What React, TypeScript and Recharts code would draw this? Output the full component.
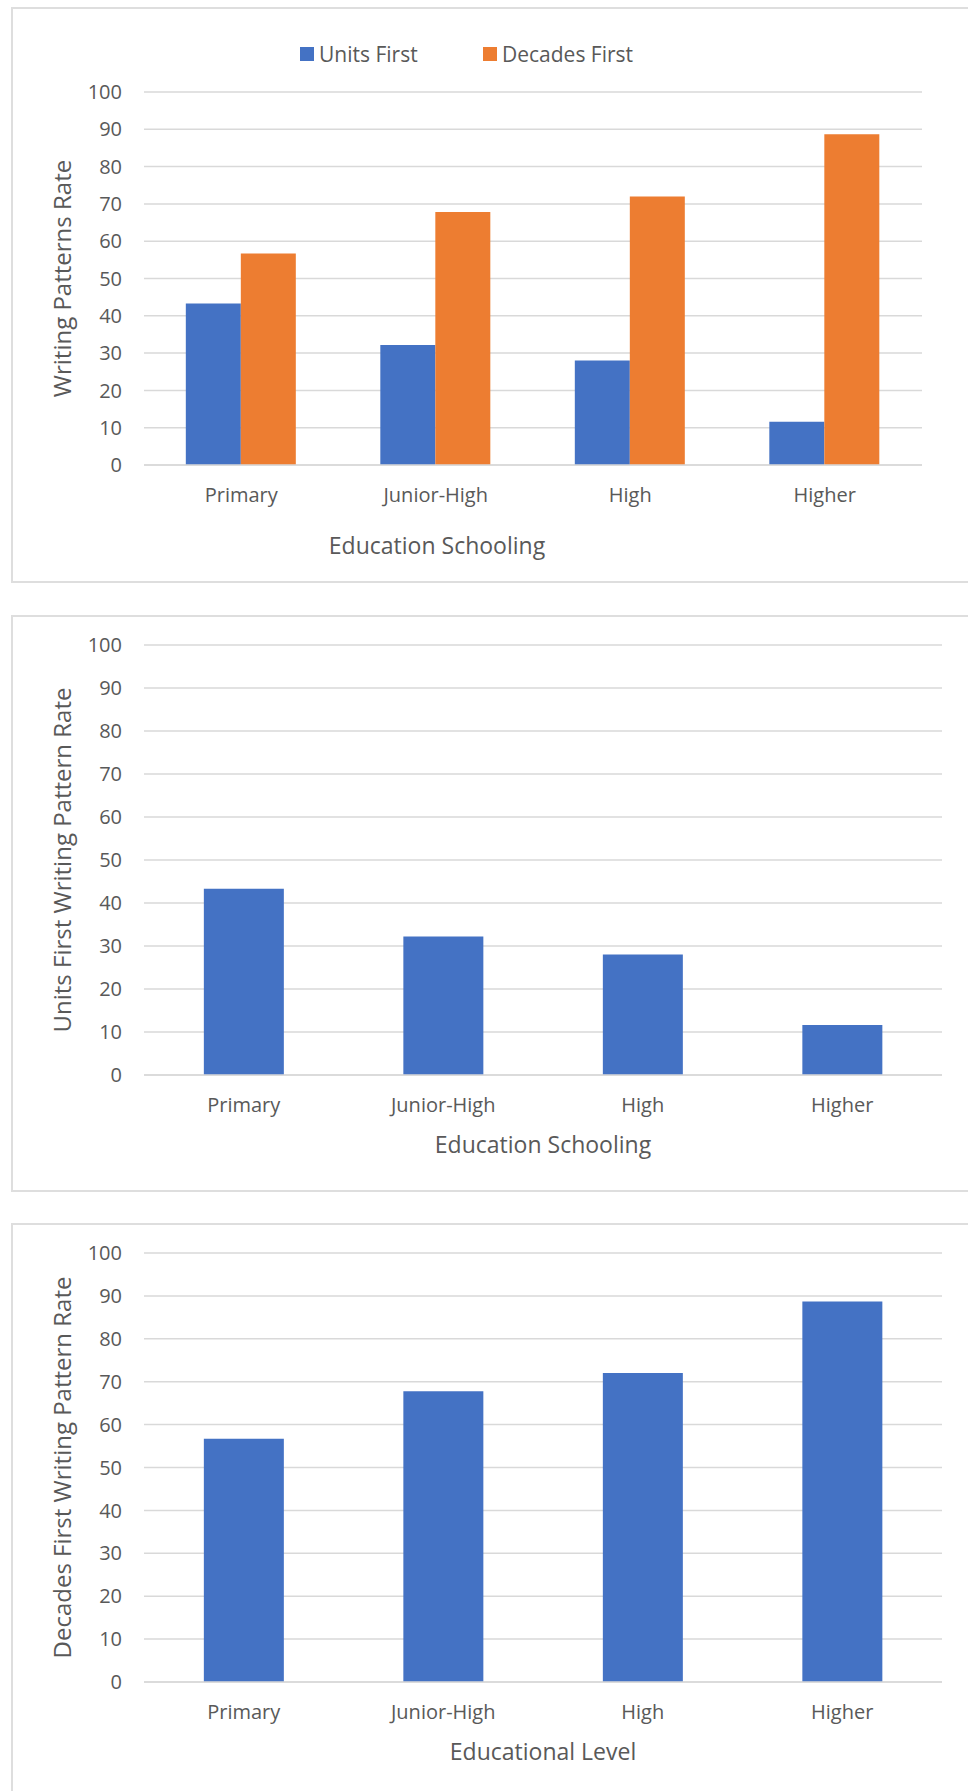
import { BarChart, Bar, XAxis, YAxis, CartesianGrid, Legend, Label } from 'recharts'

const LEVELS = ['Primary', 'Junior-High', 'High', 'Higher']
const UNITS_FIRST = [43.3, 32.2, 28.0, 11.6]
const DECADES_FIRST = [56.7, 67.8, 72.0, 88.7]
const Y_TICKS = [0, 10, 20, 30, 40, 50, 60, 70, 80, 90, 100]
const SERIES_NAMES = ['Units First', 'Decades First']

const BLUE = '#4472C4'
const ORANGE = '#ED7D31'
const GRID = '#D9D9D9'
const TEXT = '#595959'
const FONT = '"Open Sans", sans-serif'

const rows = LEVELS.map((level, i) => ({ level, units: UNITS_FIRST[i], decades: DECADES_FIRST[i] }))

const tickStyle = { fontSize: 20, fill: TEXT, fontFamily: FONT }
const titleStyle = { fontSize: 23, fill: TEXT, fontFamily: FONT, textAnchor: 'middle' as const }
const yTitleStyle = { ...titleStyle, fontSize: 24 }

function Frame({ top, height }: { top: number; height: number }) {
  return (
    <div style={{
      position: 'absolute', left: 11, top, width: 1000, height,
      border: '2px solid #DEDEDE', boxSizing: 'border-box', background: '#fff',
    }} />
  )
}

// keep legend in series order (recharts sorts by name otherwise)
function legendContent({ payload }: any) {
  const items = [...(payload || [])].sort(
    (a: any, b: any) => SERIES_NAMES.indexOf(a.value) - SERIES_NAMES.indexOf(b.value))
  return (
    <div style={{ display: 'flex', paddingLeft: 300, fontFamily: FONT, fontSize: 21, color: TEXT }}>
      {items.map((p: any) => (
        <div key={p.value} style={{ display: 'flex', alignItems: 'center', width: 183 }}>
          <span style={{ width: 14, height: 14, background: p.color, marginRight: 5, display: 'inline-block' }} />
          <span style={{ lineHeight: '22px' }}>{p.value}</span>
        </div>
      ))}
    </div>
  )
}

function yAxis(title: string) {
  return (
    <YAxis domain={[0, 100]} ticks={Y_TICKS} width={144} tickSize={0} tickMargin={22}
      axisLine={false} tickLine={false} tick={tickStyle}>
      <Label value={title} angle={-90} position="insideLeft" offset={62} style={yTitleStyle} />
    </YAxis>
  )
}

function xAxis(height: number, title: string, titleOffset: number, dx = 0) {
  return (
    <XAxis dataKey="level" height={height} interval={0} tickSize={0} tickMargin={23}
      axisLine={{ stroke: GRID, strokeWidth: 1.5 }} tickLine={false} tick={tickStyle}>
      <Label value={title} position="insideTop" offset={titleOffset} dx={dx} style={titleStyle} />
    </XAxis>
  )
}

export default function App() {
  return (
    <div style={{
      position: 'absolute', left: 0, top: 0, width: 968, height: 1791,
      overflow: 'hidden', background: '#fff', fontFamily: FONT,
    }}>
      <Frame top={7} height={576} />
      <Frame top={615} height={577} />
      <Frame top={1223} height={620} />

      <div style={{ position: 'absolute', left: 0, top: 7 }}>
        <BarChart width={968} height={576} data={rows} barCategoryGap="21.5%" barGap={0}
          margin={{ top: 85, right: 46, bottom: 0, left: 0 }}>
          <CartesianGrid vertical={false} stroke={GRID} strokeWidth={1.5} />
          {xAxis(118, 'Education Schooling', 73, -96)}
          {yAxis('Writing Patterns Rate')}
          <Legend layout="horizontal" verticalAlign="middle" align="center" content={legendContent}
            wrapperStyle={{ left: 0, top: 36, width: 968 }} />
          <Bar dataKey="units" name="Units First" fill={BLUE} isAnimationActive={false} />
          <Bar dataKey="decades" name="Decades First" fill={ORANGE} isAnimationActive={false} />
        </BarChart>
      </div>

      <div style={{ position: 'absolute', left: 0, top: 615 }}>
        <BarChart width={968} height={577} data={rows} barCategoryGap="30%"
          margin={{ top: 30, right: 26, bottom: 0, left: 0 }}>
          <CartesianGrid vertical={false} stroke={GRID} strokeWidth={1.5} />
          {xAxis(117, 'Education Schooling', 62)}
          {yAxis('Units First Writing Pattern Rate')}
          <Bar dataKey="units" name="Units First" fill={BLUE} isAnimationActive={false} />
        </BarChart>
      </div>

      <div style={{ position: 'absolute', left: 0, top: 1223 }}>
        <BarChart width={968} height={568} data={rows} barCategoryGap="30%"
          margin={{ top: 30, right: 26, bottom: 0, left: 0 }}>
          <CartesianGrid vertical={false} stroke={GRID} strokeWidth={1.5} />
          {xAxis(109, 'Educational Level', 62)}
          {yAxis('Decades First Writing Pattern Rate')}
          <Bar dataKey="decades" name="Decades First" fill={BLUE} isAnimationActive={false} />
        </BarChart>
      </div>
    </div>
  )
}
